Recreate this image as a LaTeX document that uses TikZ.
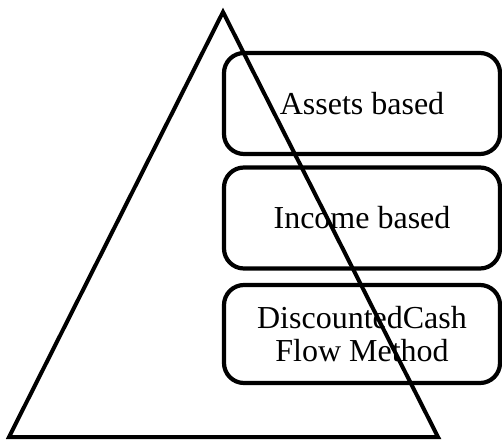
\documentclass[tikz,border=0pt]{standalone}
\usepackage{fontspec}
\setmainfont{Liberation Serif}
\begin{document}
\begin{tikzpicture}[x=1pt,y=-1pt]
\tikzset{
  layerbox/.style={draw=black, line width=4.2pt, rounded corners=20pt, fill=white,
    minimum width=276pt, align=center, font=\fontsize{32}{32.5}\selectfont, inner sep=0pt},
  tri/.style={draw=black, line width=4pt, line join=miter}
}
\useasboundingbox (0,0) rectangle (502,441);
\node[layerbox, minimum height=101pt] (b1) at (362,103.5) {Assets based};
\node[layerbox, minimum height=101pt] (b2) at (362,218) {Income based};
\node[layerbox, minimum height=98pt] (b3) at (362,334) {DiscountedCash\\Flow Method};
\coordinate (apex) at (223,12);
\coordinate (bl) at (9,437);
\coordinate (br) at (438,437);
\draw[tri] (apex) -- (br) -- (bl) -- cycle;
\end{tikzpicture}
\end{document}
